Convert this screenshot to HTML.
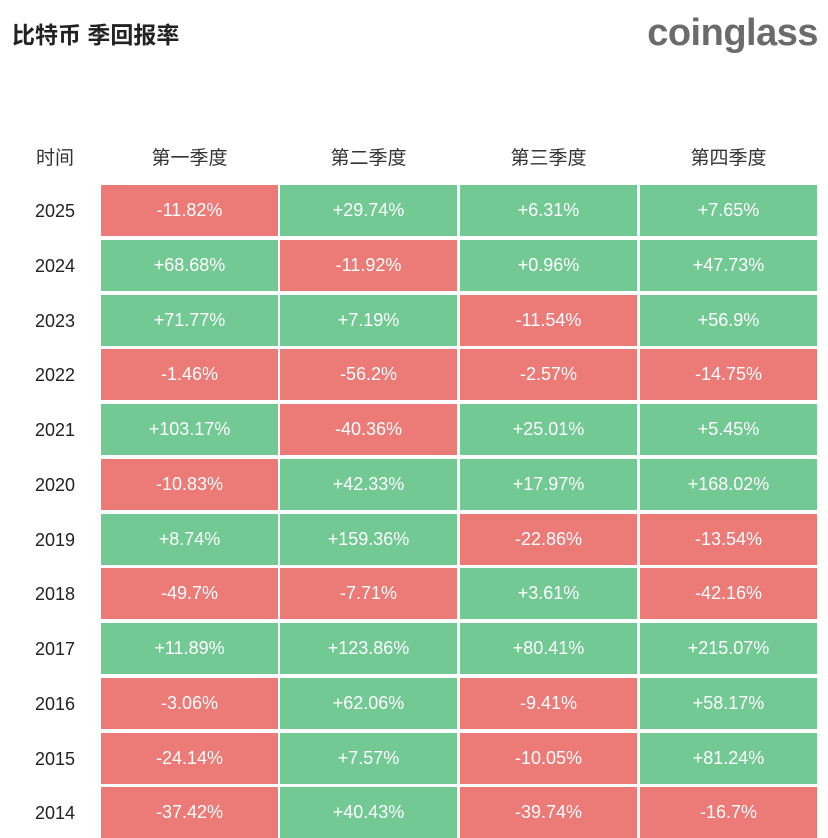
<!DOCTYPE html>
<html><head><meta charset="utf-8">
<style>
body{margin:0;width:828px;height:809px;overflow:hidden;background:#fff;font-family:"Liberation Sans","Noto Sans CJK SC",sans-serif;position:relative}
.t{position:absolute;left:12px;top:16px;font-size:23px;font-weight:bold;color:#222}
.logo{position:absolute;right:10px;top:12px;font-size:38px;font-weight:bold;color:#6b6b6b;letter-spacing:-0.5px}
.h{position:absolute;top:143px;font-size:19px;color:#333;text-align:center}
.y{position:absolute;width:80px;left:15px;text-align:center;font-size:18px;color:#222}
.c{position:absolute;width:177px;height:51px;color:#fff;font-size:18px;text-align:center;line-height:51px}
</style></head><body>
<div class="t">比特币 季回报率</div>
<div class="logo">coinglass</div>
<div class="h" style="left:15px;width:80px">时间</div>
<div class="h" style="left:101px;width:177px">第一季度</div>
<div class="h" style="left:280px;width:177px">第二季度</div>
<div class="h" style="left:460px;width:177px">第三季度</div>
<div class="h" style="left:640px;width:177px">第四季度</div>
<div id="grid"></div>
<script>
const years=["2025","2024","2023","2022","2021","2020","2019","2018","2017","2016","2015","2014"];
const q1=[-11.82,68.68,71.77,-1.46,103.17,-10.83,8.74,-49.7,11.89,-3.06,-24.14,-37.42];
const q2=[29.74,-11.92,7.19,-56.2,-40.36,42.33,159.36,-7.71,123.86,62.06,7.57,40.43];
const q3=[6.31,0.96,-11.54,-2.57,25.01,17.97,-22.86,3.61,80.41,-9.41,-10.05,-39.74];
const q4=[7.65,47.73,56.9,-14.75,5.45,168.02,-13.54,-42.16,215.07,58.17,81.24,-16.7];
const cols=[q1,q2,q3,q4];
const colX=[101,280,460,640];
const g=document.getElementById('grid');
years.forEach((yr,i)=>{
  const top=185+i*54.75;
  const y=document.createElement('div');
  y.className='y';y.style.top=(top+16)+'px';y.textContent=yr;
  
  
  g.appendChild(y);
  cols.forEach((arr,j)=>{
    const v=arr[i];
    const c=document.createElement('div');
    c.className='c';c.style.left=colX[j]+'px';c.style.top=top+'px';
    c.style.background=v>=0?'#72c993':'#ec7a76';
    c.textContent=(v>=0?'+':'')+v+'%';
    
    
    g.appendChild(c);
  });
});
</script>
</body></html>
